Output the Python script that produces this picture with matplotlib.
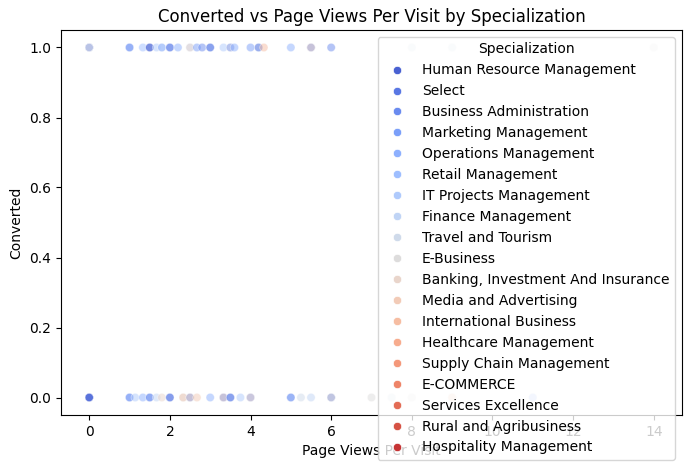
import matplotlib
matplotlib.use("Agg")
import matplotlib.pyplot as plt
import seaborn as sns
import pandas as pd

# legend order of the hue levels
specializations = [
    "Human Resource Management", "Select", "Business Administration",
    "Marketing Management", "Operations Management", "Retail Management",
    "IT Projects Management", "Finance Management", "Travel and Tourism",
    "E-Business", "Banking, Investment And Insurance", "Media and Advertising",
    "International Business", "Healthcare Management", "Supply Chain Management",
    "E-COMMERCE", "Services Excellence", "Rural and Agribusiness",
    "Hospitality Management",
]

# converted leads (y = 1)
pv_conv = [0, 0, 0, 0, 1, 1, 1.33, 1.5, 1.5, 1.67, 1.8, 1.8, 2, 2, 2.2, 2.5, 2.5,
           2.67, 2.8, 3, 3, 3.33, 3.5, 3.5, 3.6, 4, 4.2, 4.2, 4.33, 5, 5.5, 5.5,
           6, 8, 9, 14]
spec_conv = ["Human Resource Management", "Select", "Banking, Investment And Insurance",
             "Finance Management", "Business Administration", "Marketing Management",
             "Retail Management", "Select", "Human Resource Management",
             "IT Projects Management", "Finance Management", "Operations Management",
             "Select", "Business Administration", "Operations Management",
             "Media and Advertising", "Travel and Tourism", "Marketing Management",
             "Business Administration", "Marketing Management", "Select",
             "IT Projects Management", "Banking, Investment And Insurance",
             "Marketing Management", "Operations Management", "Marketing Management",
             "Finance Management", "Select", "International Business",
             "Operations Management", "Human Resource Management",
             "Banking, Investment And Insurance", "Business Administration",
             "Travel and Tourism", "Travel and Tourism", "E-Business"]

# not converted leads (y = 0)
pv_lost = [0, 0, 0, 0, 1, 1, 1.14, 1.33, 1.5, 1.5, 1.67, 1.8, 2, 2, 2.33, 2.33,
           2.5, 2.5, 2.67, 3, 3.33, 3.33, 3.5, 3.5, 3.75, 4, 4, 5, 5, 5.25, 5.5,
           6, 6, 7, 7.5, 8, 9, 11]
spec_lost = ["Select", "Select", "Select", "Human Resource Management",
             "Business Administration", "Marketing Management", "IT Projects Management",
             "Operations Management", "Select", "Marketing Management",
             "Finance Management", "Banking, Investment And Insurance",
             "Business Administration", "Select", "E-Business", "Media and Advertising",
             "Human Resource Management", "Banking, Investment And Insurance",
             "Media and Advertising", "Operations Management", "Human Resource Management",
             "Banking, Investment And Insurance", "Marketing Management", "Select",
             "IT Projects Management", "Select", "Banking, Investment And Insurance",
             "Retail Management", "Business Administration", "Travel and Tourism",
             "Finance Management", "Human Resource Management", "E-Business",
             "E-Business", "Travel and Tourism", "E-Business", "International Business",
             "Operations Management"]

df = pd.DataFrame({
    "Page Views Per Visit": pv_conv + pv_lost,
    "Converted": [1] * len(pv_conv) + [0] * len(pv_lost),
    "Specialization": spec_conv + spec_lost,
})

fig = plt.figure(figsize=(6.91, 4.70), dpi=100)
ax = fig.add_axes([61 / 691, 1 - 415 / 470, 621 / 691, 385 / 470])
sns.scatterplot(data=df, x="Page Views Per Visit", y="Converted", hue="Specialization",
                hue_order=specializations, palette="coolwarm", alpha=0.5, ax=ax)
ax.set_title("Converted vs Page Views Per Visit by Specialization")
leg = ax.legend(title="Specialization", loc="upper right")
for h in leg.legend_handles:
    h.set_alpha(1)

fig.savefig("out.png", dpi=100)
